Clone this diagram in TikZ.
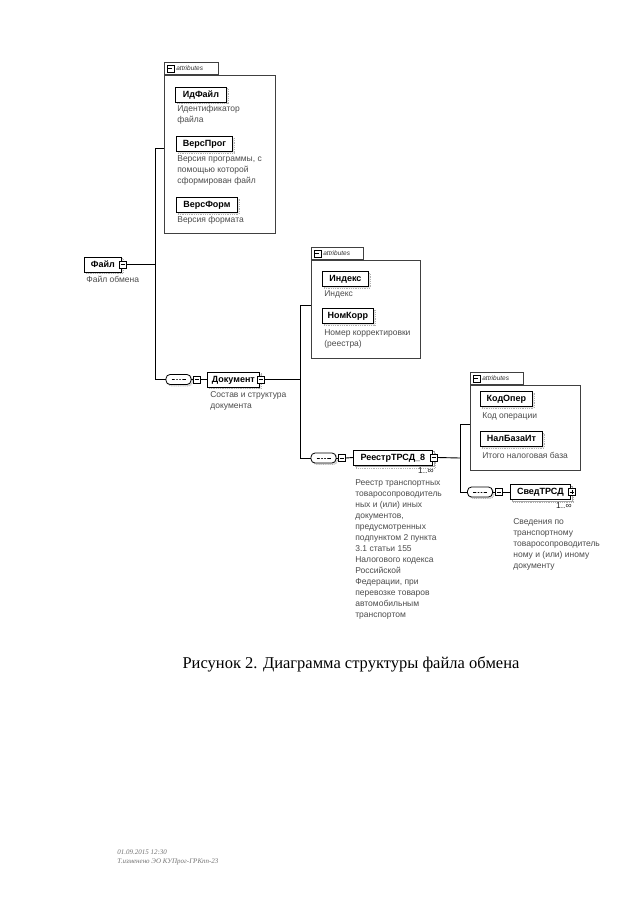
\documentclass[tikz,border=0pt]{standalone}
\usepackage{fontspec}
\setmainfont{Liberation Serif}
\setsansfont{Liberation Sans}
\usetikzlibrary{shadows}
\begin{document}
\begin{tikzpicture}[x=1pt,y=-1pt,
  line width=0.7pt,
  elbase/.style={draw, fill=white, line width=0.8pt,
    font=\sffamily\bfseries\fontsize{9}{10}\selectfont,
    minimum height=15pt, inner xsep=3pt, inner ysep=0pt, anchor=west,
    text height=6.8pt, text depth=1.6pt},
  el/.style={elbase, copy shadow={shadow xshift=1.5pt, shadow yshift=-1.5pt, draw=gray!60, fill=gray!20, densely dotted}},
  multiel/.style={elbase,
    copy shadow={shadow xshift=3pt, shadow yshift=-3pt, draw=gray!60, fill=white, densely dotted},
    copy shadow={shadow xshift=1.5pt, shadow yshift=-1.5pt, draw=gray!70, fill=white}},
  iconbase/.style={draw, fill=white, minimum size=7pt, inner sep=0pt, line width=0.5pt},
  iconminus/.style={iconbase, path picture={\draw[line width=0.5pt] ([xshift=1.3pt]path picture bounding box.west) -- ([xshift=-1.3pt]path picture bounding box.east);}},
  iconplus/.style={iconbase, path picture={\draw[line width=0.5pt] ([xshift=1.3pt]path picture bounding box.west) -- ([xshift=-1.3pt]path picture bounding box.east);
      \draw[line width=0.5pt] ([yshift=-1.3pt]path picture bounding box.north) -- ([yshift=1.3pt]path picture bounding box.south);}},
  seq/.style={draw, fill=white, rounded corners=4pt, minimum width=25pt, minimum height=10pt, inner sep=0pt, line width=0.8pt,
    copy shadow={shadow xshift=1.5pt, shadow yshift=-1.5pt, draw=gray!60, fill=gray!20, densely dotted},
    path picture={
      \draw[line width=0.6pt] ([xshift=-7pt]path picture bounding box.center) -- ([xshift=7pt]path picture bounding box.center);
      \foreach \d in {-3,0,3} \fill ([xshift=\d pt]path picture bounding box.center) circle (1pt);}},
  grp/.style={draw=black!75, line width=0.6pt, anchor=north west, inner sep=0pt},
  tab/.style={draw=black!75, line width=0.6pt, anchor=south west, inner sep=0pt, minimum height=12.5pt},
  attrtxt/.style={anchor=west, inner sep=0pt, font=\sffamily\itshape\fontsize{6.5}{7}\selectfont, text=black!80},
  desc/.style={anchor=north west, align=left, inner sep=0pt, font=\sffamily\fontsize{8.5}{11}\selectfont, text=black!70},
  occ/.style={anchor=north east, inner sep=0pt, font=\sffamily\fontsize{8.5}{9}\selectfont, text=black!85},
  conn/.style={line width=0.9pt}
]
\useasboundingbox[fill=white] (0,0) rectangle (640,905);

% ---------- attribute group 1 ----------
\node[grp, minimum width=111pt, minimum height=158pt] (g1) at (164,75) {};
\node[tab, minimum width=54pt] (g1t) at (g1.north west) {};
\node[iconminus, anchor=west] (g1i) at ([xshift=2.5pt]g1t.west) {};
\node[attrtxt] (g1a) at ([xshift=2pt]g1i.east) {attributes};

\node[el, minimum width=51pt] (idf) at (175,94.5) {ИдФайл};
\node[desc] (idfd) at (177,105) {Идентификатор\\файла};
\node[el, minimum width=56pt] (vprog) at (176,144) {ВерсПрог};
\node[desc] (vprogd) at (177,155) {Версия программы, с\\помощью которой\\сформирован файл};
\node[el, minimum width=61pt] (vform) at (176,205) {ВерсФорм};
\node[desc] (vformd) at (177,216) {Версия формата};

% ---------- root ----------
\node[el, minimum width=37pt] (fajl) at (84,264.5) {Файл};
\node[iconminus] (fajlx) at ([xshift=1pt]fajl.east) {};
\node[desc] (fajld) at (86,276) {Файл обмена};

\coordinate (j1) at (155,148);
\coordinate (j1m) at (155,264.5);
\coordinate (j1b) at (155,379.5);
\draw[conn] (fajlx.east) -- (j1m);
\draw[conn] (j1) -- (j1b);
\draw[conn] (j1) -- (j1 -| g1.west);

% ---------- Документ ----------
\node[seq] (s1) at (178.5,379.5) {};
\node[iconminus] (s1x) at (197,379.5) {};
\node[el, minimum width=52pt] (doc) at (207,379.5) {Документ};
\node[iconminus] (docx) at ([xshift=1pt]doc.east) {};
\node[desc] (docd) at (210,391) {Состав и структура\\документа};
\draw[conn] (j1b) -- (s1.west);
\draw[conn] (s1.east) -- (s1x.west);
\draw[conn] (s1x.east) -- (doc.west);

% ---------- attribute group 2 ----------
\node[grp, minimum width=109pt, minimum height=98pt] (g2) at (311,260) {};
\node[tab, minimum width=52pt] (g2t) at (g2.north west) {};
\node[iconminus, anchor=west] (g2i) at ([xshift=2.5pt]g2t.west) {};
\node[attrtxt] (g2a) at ([xshift=2pt]g2i.east) {attributes};

\node[el, minimum width=46pt] (ind) at (322,279) {Индекс};
\node[desc] (indd) at (324,290) {Индекс};
\node[el, minimum width=51pt] (nkorr) at (322,316) {НомКорр};
\node[desc] (nkorrd) at (324,329) {Номер корректировки\\(реестра)};

\coordinate (j2) at (300,305);
\coordinate (j2m) at (300,379.5);
\coordinate (j2b) at (300,458);
\draw[conn] (docx.east) -- (j2m);
\draw[conn] (j2) -- (j2b);
\draw[conn] (j2) -- (j2 -| g2.west);

% ---------- РеестрТРСД_8 ----------
\node[seq] (s2) at (323.5,458) {};
\node[iconminus] (s2x) at (342,458) {};
\node[multiel, minimum width=79pt] (reestr) at (353,457.5) {РеестрТРСД\_8};
\node[iconminus] (reestrx) at ([xshift=1pt]reestr.east) {};
\node[occ] (reestro) at (434,467.5) {1..∞};
\node[desc] (reestrd) at (355,479) {Реестр транспортных\\товаросопроводитель\\ных и (или) иных\\документов,\\предусмотренных\\подпунктом 2 пункта\\3.1 статьи 155\\Налогового кодекса\\Российской\\Федерации, при\\перевозке товаров\\автомобильным\\транспортом};
\draw[conn] (j2b) -- (s2.west);
\draw[conn] (s2.east) -- (s2x.west);
\draw[conn] (s2x.east) -- (reestr.west);

% ---------- attribute group 3 ----------
\node[grp, minimum width=110pt, minimum height=85pt] (g3) at (470,385) {};
\node[tab, minimum width=53pt] (g3t) at (g3.north west) {};
\node[iconminus, anchor=west] (g3i) at ([xshift=2.5pt]g3t.west) {};
\node[attrtxt] (g3a) at ([xshift=2pt]g3i.east) {attributes};

\node[el, minimum width=52pt] (kodop) at (480,399) {КодОпер};
\node[desc] (kodopd) at (482,412) {Код операции};
\node[el, minimum width=62pt] (nalb) at (480,439) {НалБазаИт};
\node[desc] (nalbd) at (482,452) {Итого налоговая база};

\coordinate (j3) at (460,424);
\coordinate (j3m) at (460,458);
\coordinate (j3b) at (460,492);
\draw[conn] (reestrx.east) -- (j3m);
\draw[conn] (j3) -- (j3b);
\draw[conn] (j3) -- (j3 -| g3.west);

% ---------- СведТРСД ----------
\node[seq] (s3) at (480,492) {};
\node[iconminus] (s3x) at (499,492) {};
\node[multiel, minimum width=60pt] (sved) at (510,492) {СведТРСД};
\node[iconplus] (svedx) at ([xshift=1pt]sved.east) {};
\node[occ] (svedo) at (572,502.5) {1..∞};
\node[desc] (svedd) at (513,518) {Сведения по\\транспортному\\товаросопроводитель\\ному и (или) иному\\документу};
\draw[conn] (j3b) -- (s3.west);
\draw[conn] (s3.east) -- (s3x.west);
\draw[conn] (s3x.east) -- (sved.west);

% ---------- caption ----------
\node[font=\fontsize{16.5}{19}\selectfont, inner sep=0pt] (cap) at (351,664) {Рисунок 2. Диаграмма структуры файла обмена};

% ---------- footer ----------
\node[anchor=west, inner sep=0pt, align=left, font=\itshape\fontsize{7}{9}\selectfont, text=black!55] (foot) at (117,857) {01.09.2015 12:30\\Т.изменено ЭО КУПрог-ГРКпп-23};
\end{tikzpicture}
\end{document}
